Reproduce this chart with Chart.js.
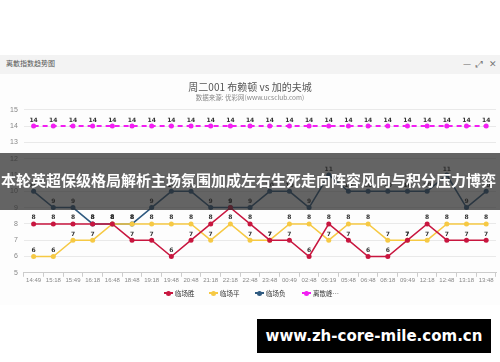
<!DOCTYPE html>
<html>
<head>
<meta charset="utf-8">
<script src="https://cdn.jsdelivr.net/npm/chart.js@4.4.1/dist/chart.umd.min.js"></script>
<style>
  html, body { margin: 0; padding: 0; background: #fff; }
  body { width: 500px; height: 362px; position: relative; overflow: hidden; font-family: "Noto Sans CJK SC", "Noto Sans", sans-serif; }
  #panel { position: absolute; left: 0; top: 55px; width: 500px; height: 250px; background: #fdfdfd; }
  #head { position: absolute; left: 0; top: 0; width: 500px; height: 19px; background: #f3f3f3; }
  #head .t { position: absolute; left: 6px; top: 3px; font-size: 7px; color: #555; }
  #head .ic { position: absolute; top: 2px; font-size: 9px; color: #777; }
  #wrap { position: absolute; left: 0; top: 19px; width: 500px; height: 234px; }
  #legend { position: absolute; left: 0; top: 232px; width: 500px; height: 12px; }
  #legend .item { position: absolute; top: 0; height: 12px; white-space: nowrap; }
  #legend .ln { position: absolute; left: 0; top: 5px; width: 9px; height: 1.5px; }
  #legend .dot { position: absolute; left: 2px; top: 3.5px; width: 5px; height: 5px; border-radius: 50%; }
  #legend .tx { position: absolute; left: 11px; top: 0; font-size: 6.5px; line-height: 12px; color: #333; }
  #band { position: absolute; left: 0; top: 153px; width: 500px; height: 57px; background: rgba(40,40,40,0.72); z-index: 5; }
  #band span { position: absolute; left: 1px; top: 17px; font-size: 15px; font-weight: bold; color: #fff; white-space: nowrap; line-height: 20px; }
  #site { position: absolute; left: 257px; top: 319px; width: 234px; height: 34px; background: #000; z-index: 5; }
  #site span { display: block; text-align: center; line-height: 34px; font-family: "DejaVu Sans", sans-serif; font-weight: bold; font-size: 15px; color: #fff; }
</style>
</head>
<body>
<div id="panel">
  <div id="head">
    <span class="t">离散指数趋势图</span>
    <span class="ic" style="left:463px">—</span>
    <span class="ic" style="left:476px">⤢</span>
    <span class="ic" style="left:489px">✕</span>
  </div>
  <div id="wrap"><canvas id="chart"></canvas></div>
  <div id="legend"></div>
</div>
<div id="band"><span>本轮英超保级格局解析主场氛围加成左右生死走向阵容风向与积分压力博弈</span></div>
<div id="site"><span>www.zh-core-mile.com.cn</span></div>
<script>
const times = ['14:49', '15:18', '15:49', '16:18', '16:48', '18:48', '19:18', '19:48', '20:48', '21:18', '22:18', '22:48',
               '23:48', '00:49', '02:48', '05:19', '05:48', '06:48', '08:18', '09:49', '12:18', '12:48', '13:18', '13:48'];
const win = [8, 8, 8, 8, 8, 7, 7, 6, 7, 8, 9, 8, 7, 7, 6, 8, 7, 6, 6, 7, 8, 7, 7, 7];
const draw = [6, 6, 7, 7, 8, 8, 8, 8, 8, 7, 8, 7, 7, 8, 8, 7, 8, 8, 7, 7, 7, 8, 8, 8];
const lose = [10, 9, 9, 8, 8, 8, 9, 10, 10, 9, 9, 9, 10, 10, 9, 11, 10, 10, 10, 10, 10, 11, 9, 10];
const spread = [14, 14, 14, 14, 14, 14, 14, 14, 14, 14, 14, 14, 14, 14, 14, 14, 14, 14, 14, 14, 14, 14, 14, 14];
const yTicks = [5, 6, 7, 8, 9, 10, 11, 12, 13, 14, 15];

const valueLabels = {
    id: 'valueLabels',
    afterDatasetsDraw(chart) {
        const ctx = chart.ctx;
        ctx.save();
        ctx.font = 'bold 6px "DejaVu Sans", sans-serif';
        ctx.fillStyle = '#333';
        ctx.textAlign = 'center';
        ctx.textBaseline = 'bottom';
        chart.data.datasets.forEach((ds, i) => {
            chart.getDatasetMeta(i).data.forEach((pt, j) => {
                ctx.fillText(ds.data[j], pt.x, pt.y - 3);
            });
        });
        ctx.restore();
    }
};

function series(label, data, color, dashed) {
    return {
        label: label,
        data: data,
        borderColor: color,
        backgroundColor: color,
        borderWidth: dashed ? 2 : 1.5,
        borderDash: dashed ? [5, 4] : [],
        pointRadius: 2.5,
        pointHoverRadius: 2.5,
        pointBorderWidth: 0,
        tension: 0,
        fill: false
    };
}

const chart = new Chart(document.getElementById('chart').getContext('2d'), {
    type: 'line',
    data: {
        labels: times,
        datasets: [
            series('临场胜', win, '#c8163f', false),
            series('临场平', draw, '#f6c944', false),
            series('临场负', lose, '#2f5a80', false),
            series('离散峰…', spread, '#f21ef2', true)
        ]
    },
    options: {
        responsive: true,
        maintainAspectRatio: false,
        animation: false,
        layout: { padding: { left: 4, right: 4, top: 0, bottom: 24 } },
        plugins: {
            title: {
                display: true,
                text: '周二001 布赖顿 vs 加的夫城',
                color: '#555',
                font: { size: 10, weight: 'normal', family: '"Noto Sans CJK SC", sans-serif' },
                padding: { top: 7, bottom: 1 }
            },
            subtitle: {
                display: true,
                text: '数据来源: 优彩网(www.ucsclub.com)',
                color: '#888',
                font: { size: 6.5, family: '"Noto Sans CJK SC", sans-serif' },
                padding: { top: 0, bottom: 8 }
            },
            legend: { display: false },
            tooltip: { enabled: false }
        },
        scales: {
            x: {
                offset: true,
                grid: { offset: true, drawOnChartArea: false, tickLength: 4, color: '#ccc' },
                border: { color: '#ccc' },
                ticks: { color: '#888', font: { size: 6 }, padding: 0, maxRotation: 0, autoSkip: false }
            },
            y: {
                min: 5,
                max: 15,
                afterBuildTicks(axis) { axis.ticks = yTicks.map(v => ({ value: v })); },
                grid: { color: '#e9e9e9', drawTicks: false },
                border: { display: false },
                ticks: { color: '#888', font: { size: 7 }, padding: 6 }
            }
        }
    },
    plugins: [valueLabels]
});

// html legend built from the datasets
const legendLefts = [164, 209, 255, 302];
const legend = document.getElementById('legend');
chart.data.datasets.forEach((ds, i) => {
    const item = document.createElement('div');
    item.className = 'item';
    item.style.left = legendLefts[i] + 'px';
    item.innerHTML = '<span class="ln" style="background:' + ds.borderColor + '"></span>' +
        '<span class="dot" style="background:' + ds.borderColor + '"></span>' +
        '<span class="tx">' + ds.label + '</span>';
    legend.appendChild(item);
});
</script>
</body>
</html>
